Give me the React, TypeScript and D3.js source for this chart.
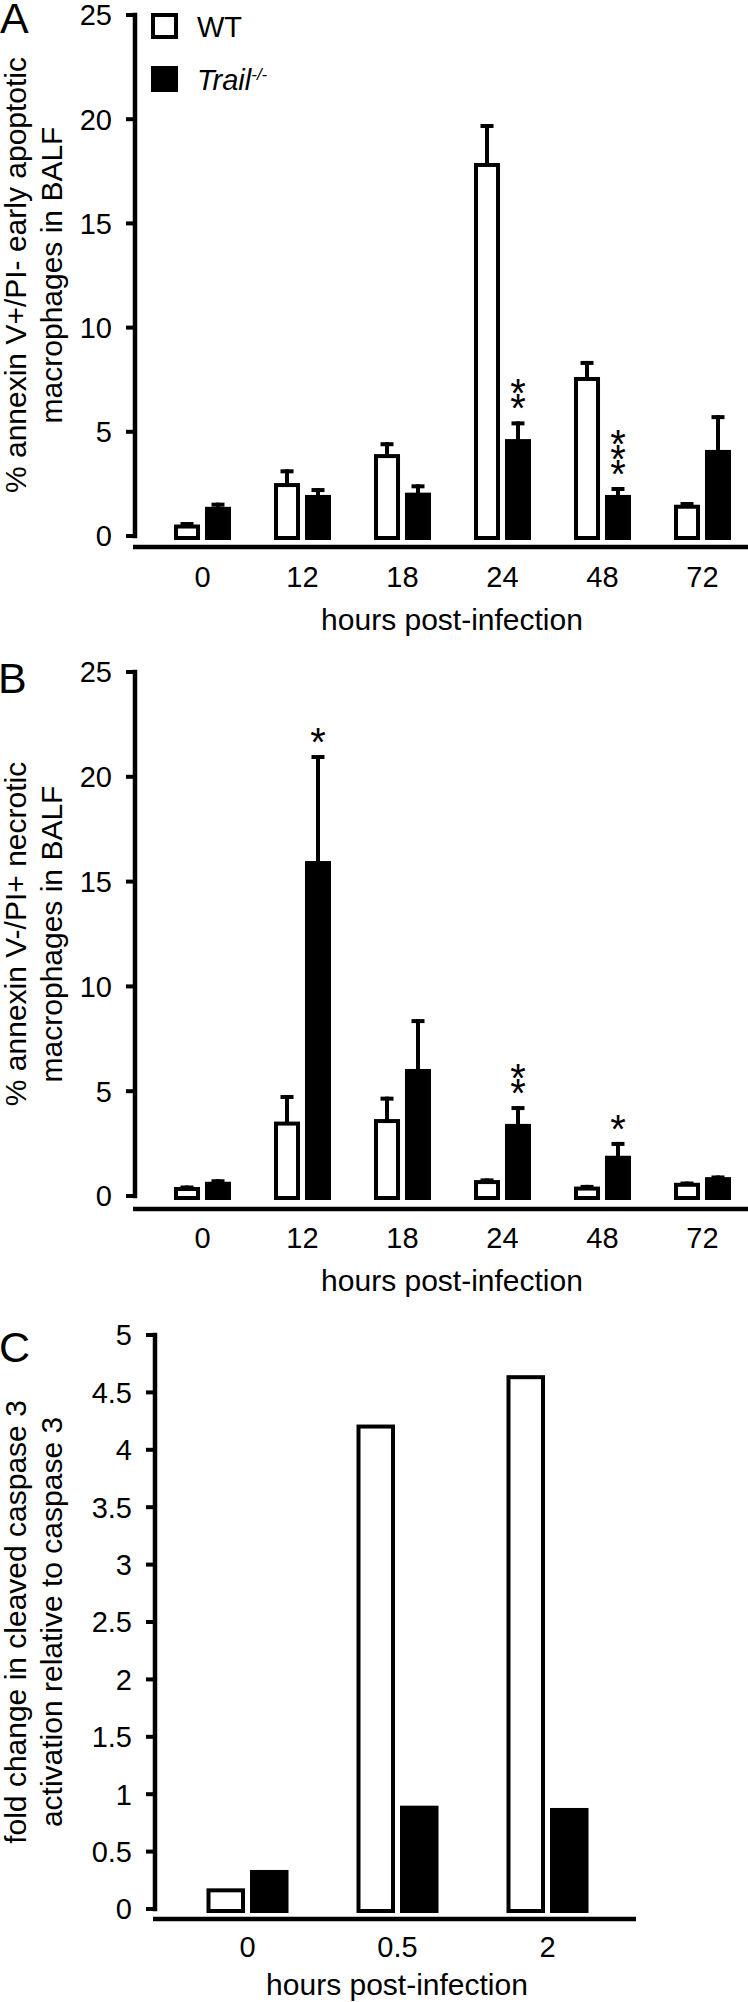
import React from 'react';
import * as d3 from 'd3';

// ---------- data ----------
const hoursAB = ['0', '12', '18', '24', '48', '72'];
const seriesKeys = ['WT', 'Trail'];

// Panel A: % annexin V+/PI- early apoptotic macrophages
const aWT = [0.55, 2.54, 3.93, 17.9, 7.63, 1.5];
const aWTErr = [0.12, 0.66, 0.57, 1.87, 0.77, 0.13];
const aKO = [1.4, 1.97, 2.08, 4.65, 1.97, 4.13];
const aKOErr = [0.2, 0.33, 0.4, 0.85, 0.38, 1.67];
const aSig = ['', '', '', '**', '***', ''];

// Panel B: % annexin V-/PI+ necrotic macrophages
const bWT = [0.43, 3.55, 3.67, 0.76, 0.45, 0.63];
const bWTErr = [0.07, 1.27, 1.07, 0.08, 0.08, 0.06];
const bKO = [0.68, 15.98, 6.06, 3.44, 1.92, 0.9];
const bKOErr = [0.12, 5.06, 2.38, 0.85, 0.66, 0.08];
const bSig = ['', '*', '', '**', '*', ''];

// Panel C: fold change in cleaved caspase 3
const hoursC = ['0', '0.5', '2'];
const cWT = [0.18, 4.22, 4.65];
const cKO = [0.34, 0.9, 0.88];

const ticksAB = [0, 5, 10, 15, 20, 25];
const ticksC = [0, 0.5, 1, 1.5, 2, 2.5, 3, 3.5, 4, 4.5, 5];

const FONT = '"Liberation Sans", Arial, Helvetica, sans-serif';

type PanelProps = {
  letter: string;
  letterX: number;
  letterY: number;
  yTop: number;
  y0: number;
  max: number;
  axisX: number;
  xAxisY: number;
  xAxisEnd: number;
  cats: string[];
  centerRange: [number, number];
  halfGroup: number;
  padInner: number;
  wt: number[];
  ko: number[];
  wtErr?: number[];
  koErr?: number[];
  sig?: string[];
  ticks: number[];
  titleLines: string[];
  titleCenterY: number;
  xLabelY: number;
  xTitleY: number;
  xTitleX: number;
};

function Panel(p: PanelProps) {
  const y = d3.scaleLinear().domain([0, p.max]).range([p.y0, p.yTop]);
  const x = d3.scalePoint<string>().domain(p.cats).range(p.centerRange);
  const inner = d3
    .scaleBand<string>()
    .domain(seriesKeys)
    .range([-p.halfGroup, p.halfGroup])
    .paddingInner(p.padInner);
  const bw = inner.bandwidth();
  const sw = 4;
  const fmt = d3.format('~g');

  const bars: React.ReactNode[] = [];
  p.cats.forEach((c, i) => {
    const cx = x(c)!;
    [
      { key: 'WT', v: p.wt[i], e: p.wtErr ? p.wtErr[i] : null, fill: '#fff' },
      { key: 'Trail', v: p.ko[i], e: p.koErr ? p.koErr[i] : null, fill: '#000' },
    ].forEach((s) => {
      const bx = cx + inner(s.key)!;
      const top = y(s.v);
      const mid = bx + bw / 2;
      if (s.e !== null) {
        const et = y(s.v + s.e);
        bars.push(
          <line key={`es-${c}-${s.key}`} x1={mid} x2={mid} y1={top + 2} y2={et} stroke="#000" strokeWidth={4} />
        );
        bars.push(
          <line key={`ec-${c}-${s.key}`} x1={mid - 6.5} x2={mid + 6.5} y1={et + 2} y2={et + 2} stroke="#000" strokeWidth={4} />
        );
      }
      bars.push(
        <rect
          key={`b-${c}-${s.key}`}
          x={bx + sw / 2}
          y={top + sw / 2}
          width={bw - sw}
          height={Math.max(0, p.y0 - top)}
          fill={s.fill}
          stroke="#000"
          strokeWidth={sw}
        />
      );
      if (s.key === 'Trail' && p.sig && p.sig[i]) {
        const base = y(s.v + (s.e || 0)) - 22;
        p.sig[i].split('').forEach((ch, k) => {
          const cy = base - k * 15;
          bars.push(
            <text key={`s-${c}-${k}`} x={mid} y={cy + 23} textAnchor="middle" fontSize={40} fontFamily={FONT}>
              {ch}
            </text>
          );
        });
      }
    });
  });

  return (
    <g>
      <text x={p.letterX} y={p.letterY} fontSize={43} fontFamily={FONT}>
        {p.letter}
      </text>
      {/* y axis */}
      <line x1={p.axisX} x2={p.axisX} y1={p.yTop - 2.25} y2={p.y0 + 2.25} stroke="#000" strokeWidth={4.5} />
      {p.ticks.map((t) => (
        <g key={`t-${t}`}>
          <line x1={p.axisX - 9} x2={p.axisX} y1={y(t)} y2={y(t)} stroke="#000" strokeWidth={4} />
          <text
            x={p.axisX - 23}
            y={y(t)}
            dy="0.36em"
            textAnchor="end"
            fontSize={29}
            fontFamily={FONT}
          >
            {fmt(t)}
          </text>
        </g>
      ))}
      {/* x axis */}
      <line x1={p.axisX - 2} x2={p.xAxisEnd} y1={p.xAxisY} y2={p.xAxisY} stroke="#000" strokeWidth={4.5} />
      {p.cats.map((c) => (
        <text key={`xl-${c}`} x={x(c)!} y={p.xLabelY} textAnchor="middle" fontSize={29} fontFamily={FONT}>
          {c}
        </text>
      ))}
      <text x={p.xTitleX} y={p.xTitleY} textAnchor="middle" fontSize={30} fontFamily={FONT}>
        hours post-infection
      </text>
      {/* y title */}
      {p.titleLines.map((l, k) => (
        <text
          key={`yt-${k}`}
          transform={`translate(${26 + k * 36},${p.titleCenterY}) rotate(-90)`}
          textAnchor="middle"
          fontSize={30}
          fontFamily={FONT}
        >
          {l}
        </text>
      ))}
      {bars}
    </g>
  );
}

export default function App() {
  return (
    <svg
      width={748}
      height={2002}
      viewBox="0 0 748 2002"
      style={{ position: 'absolute', left: 0, top: 0, background: '#fff' }}
    >
      <rect x={0} y={0} width={748} height={2002} fill="#fff" />
      <Panel
        letter="A"
        letterX={0}
        letterY={33}
        yTop={15}
        y0={536}
        max={25}
        axisX={135}
        xAxisY={547}
        xAxisEnd={748}
        cats={hoursAB}
        centerRange={[202.5, 702.5]}
        halfGroup={28.5}
        padInner={0.16}
        wt={aWT}
        ko={aKO}
        wtErr={aWTErr}
        koErr={aKOErr}
        sig={aSig}
        ticks={ticksAB}
        titleLines={['% annexin V+/PI- early apoptotic', 'macrophages in BALF']}
        titleCenterY={275}
        xLabelY={587}
        xTitleY={630}
        xTitleX={452}
      />
      {/* legend */}
      <rect x={153} y={15} width={23} height={22} fill="#fff" stroke="#000" strokeWidth={4} />
      <rect x={151} y={66} width={27} height={26} fill="#000" />
      <text x={197} y={37} fontSize={29} fontFamily={FONT}>
        WT
      </text>
      <text x={197} y={90} fontSize={29} fontFamily={FONT} fontStyle="italic">
        Trail
        <tspan fontSize={17} dy={-10}>
          -/-
        </tspan>
      </text>
      <Panel
        letter="B"
        letterX={-2}
        letterY={693}
        yTop={672}
        y0={1196}
        max={25}
        axisX={135}
        xAxisY={1209}
        xAxisEnd={748}
        cats={hoursAB}
        centerRange={[202.5, 702.5]}
        halfGroup={28.5}
        padInner={0.16}
        wt={bWT}
        ko={bKO}
        wtErr={bWTErr}
        koErr={bKOErr}
        sig={bSig}
        ticks={ticksAB}
        titleLines={['% annexin V-/PI+ necrotic', 'macrophages in BALF']}
        titleCenterY={934}
        xLabelY={1248}
        xTitleY={1291}
        xTitleX={452}
      />
      <Panel
        letter="C"
        letterX={-1}
        letterY={1362}
        yTop={1335}
        y0={1909}
        max={5}
        axisX={155}
        xAxisY={1919}
        xAxisEnd={636}
        cats={hoursC}
        centerRange={[247.5, 547.5]}
        halfGroup={41}
        padInner={0.115}
        wt={cWT}
        ko={cKO}
        ticks={ticksC}
        titleLines={['fold change in cleaved caspase 3', 'activation relative to caspase 3']}
        titleCenterY={1622}
        xLabelY={1957}
        xTitleY={1995}
        xTitleX={397}
      />
    </svg>
  );
}
